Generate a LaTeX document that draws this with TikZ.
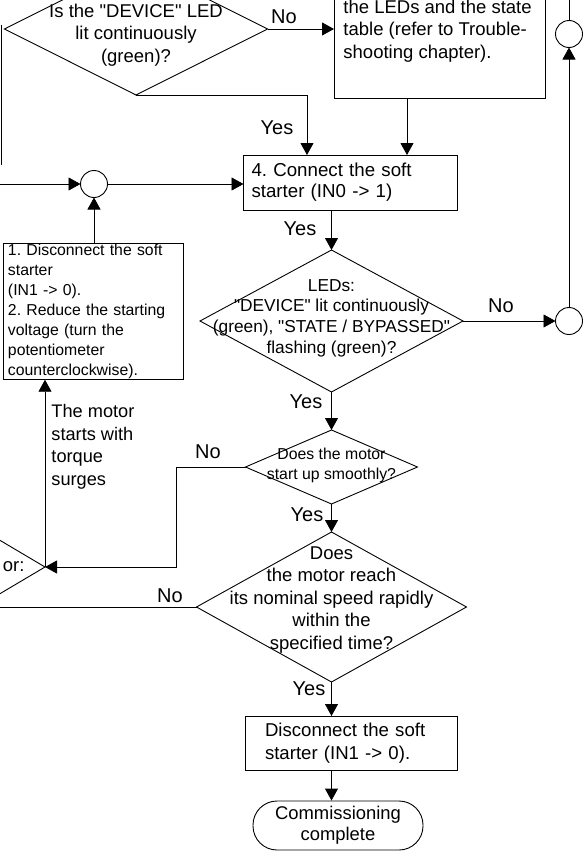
\documentclass[tikz,border=0pt]{standalone}
\usepackage{fontspec}
\setmainfont{Liberation Sans}[Ligatures=TeXOff]
\usetikzlibrary{arrows.meta,shapes.geometric}
\frenchspacing

\begin{document}
\begin{tikzpicture}[x=1pt,y=-1pt,line width=0.9pt,
  arr/.style={-{Triangle[length=12pt,width=13pt]}},
  dia/.style={draw,diamond,inner sep=0pt,outer sep=0pt},
  box/.style={draw,rectangle,outer sep=0pt,align=left,font=\fontsize{18.6}{22}\selectfont},
  junc/.style={draw,circle,minimum size=27pt,inner sep=0pt,outer sep=0pt},
  lbl/.style={font=\fontsize{20}{24}\selectfont,inner sep=0pt},
  txt/.style={font=\fontsize{18.5}{22.5}\selectfont,align=center,inner sep=0pt}]
\useasboundingbox (0,0) rectangle (584,854);
\clip (0,0) rectangle (584,854);
\node[dia,minimum width=263pt,minimum height=132pt] (led) at (136,29) {};
\node[txt] (ledq) at (136,35) {Is the "DEVICE" LED\\lit continuously\\(green)?};
\node[draw,minimum width=211pt,minimum height=140pt,anchor=south west,outer sep=0pt] (chk) at (334,98) {};
\node[txt,align=left,anchor=north west] (chkt) at (343,-0.5) {the LEDs and the state\\table (refer to Trouble-\\shooting chapter).};
\node[box,text width=198pt,inner xsep=8pt,minimum height=55pt,font=\fontsize{18.7}{21}\selectfont] (conn) at (350.5,182.5) {4. Connect the soft\\starter (IN0 -> 1)};
\node[junc] (c1) at (94,184) {};
\node[junc] (c2) at (569,321) {};
\node[junc] (c3) at (569,34) {};
\node[box,text width=170pt,inner xsep=5pt,inner ysep=1pt,anchor=north west,font=\fontsize{15.8}{20}\selectfont] (fix) at (3,243) {1. Disconnect the soft\\starter\\(IN1 -> 0).\\2. Reduce the starting\\voltage (turn the\\potentiometer\\counterclockwise).};
\node[dia,minimum width=263pt,minimum height=142pt] (leds) at (331.5,321) {};
\node[txt,font=\fontsize{17.3}{20.7}\selectfont] (ledst) at (331.5,318) {LEDs:\\"DEVICE" lit continuously\\(green), "STATE / BYPASSED"\\flashing (green)?};
\node[dia,minimum width=172pt,minimum height=74pt] (smooth) at (331.5,467) {};
\node[txt,font=\fontsize{15.8}{20}\selectfont] (smootht) at (331.5,465) {Does the motor\\start up smoothly?};
\node[dia,minimum width=270pt,minimum height=160pt] (dor) at (-90,567) {};
\node[txt,anchor=east] (dort) at (25,567) {or:};
\node[txt,align=left,anchor=north west,font=\fontsize{18.2}{22.5}\selectfont] (surge) at (51,404) {The motor\\starts with\\torque\\surges};
\node[dia,minimum width=270pt,minimum height=150pt] (speed) at (331.5,607) {};
\node[txt] (speedt) at (331.5,600) {Does\\the motor reach\\its nominal speed rapidly\\within the\\specified time?};
\node[box,text width=172pt,inner xsep=20pt,minimum height=54pt,font=\fontsize{18.6}{23}\selectfont] (off) at (351,743) {Disconnect the soft\\starter (IN1 -> 0).};
\node[draw,rounded corners=24pt,minimum width=170pt,minimum height=49pt,txt,font=\fontsize{18.4}{21}\selectfont] (done) at (338,825.5) {Commissioning\\complete};
\node[lbl] (no1) at (284,17) {No};
\node[lbl] (yes1) at (277,128) {Yes};
\node[lbl] (yes2) at (300,229) {Yes};
\node[lbl] (no2) at (501,306) {No};
\node[lbl] (yes3) at (306,402) {Yes};
\node[lbl] (no3) at (208,452) {No};
\node[lbl] (yes4) at (307,515) {Yes};
\node[lbl] (no4) at (170,596) {No};
\node[lbl] (yes5) at (309,689) {Yes};
\coordinate (lin) at (0,184);
\coordinate (lout) at (0,607);
\coordinate (rtop) at (569,0);
\draw (1.5,25) -- (1.5,165);
\draw[arr] (led.east) -- (led.east -| chk.west);
\draw[arr] (led.south) -| ([xshift=-43.5pt]conn.north);
\draw[arr] ([xshift=-32.5pt]chk.south) -- ([xshift=56.5pt]conn.north);
\draw[arr] (lin) -- (c1.west);
\draw[arr] (c1.east) -- (c1.east -| conn.west);
\draw[arr] (c1.south |- fix.north) -- (c1.south);
\draw[arr] (leds.north |- conn.south) -- (leds.north);
\draw[arr] (leds.east) -- (c2.west);
\draw[arr] (c2.north) -- (c3.south);
\draw (c3.north) -- (rtop);
\draw[arr] (leds.south) -- (smooth.north);
\draw[arr] (smooth.west) -- ++(-69,0) |- (dor.east);
\draw[arr] (dor.east) -- (dor.east |- fix.south);
\draw[arr] (smooth.south) -- (speed.north);
\draw (speed.west) -- (lout);
\draw[arr] (speed.south) -- (speed.south |- off.north);
\draw[arr] (speed.south |- off.south) -- (speed.south |- done.north);
\end{tikzpicture}
\end{document}
